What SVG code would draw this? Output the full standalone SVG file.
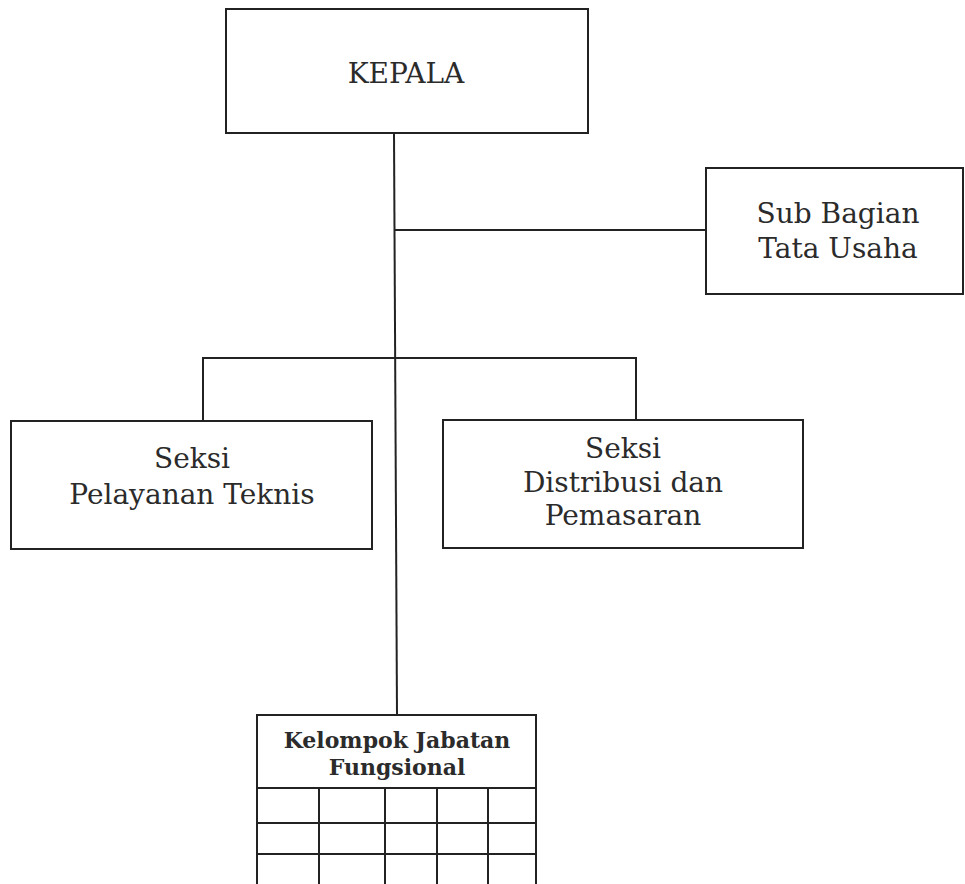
<svg xmlns="http://www.w3.org/2000/svg" width="965" height="884" viewBox="0 0 965 884">
  <style>
    .box { fill: #ffffff; stroke: #222222; stroke-width: 2; }
    .wire { fill: none; stroke: #222222; stroke-width: 2; }
    .grid { fill: none; stroke: #222222; stroke-width: 2; }
    .label { font-family: "DejaVu Serif", "Liberation Serif", serif; font-size: 28px; fill: #2b2b2b; text-anchor: middle; }
    .title { font-family: "DejaVu Serif", "Liberation Serif", serif; font-size: 22px; font-weight: bold; fill: #2b2b2b; text-anchor: middle; }
  </style>
  <rect width="965" height="884" fill="#ffffff"/>

  <!-- connectors -->
  <g id="connectors">
    <line class="wire" x1="394" y1="133" x2="397" y2="715"/>
    <line class="wire" x1="395" y1="230" x2="706" y2="230"/>
    <polyline class="wire" points="203,421 203,358 636,358 636,420"/>
  </g>

  <g id="kepala">
    <rect class="box" x="226" y="9" width="362" height="124"/>
    <text class="label" x="406" y="83">KEPALA</text>
  </g>

  <g id="sub-bagian-tata-usaha">
    <rect class="box" x="706" y="168" width="257" height="126"/>
    <text class="label" x="838" y="223">Sub Bagian</text>
    <text class="label" x="838" y="258">Tata Usaha</text>
  </g>

  <g id="seksi-pelayanan-teknis">
    <rect class="box" x="11" y="421" width="361" height="128"/>
    <text class="label" x="192" y="468">Seksi</text>
    <text class="label" x="192" y="504">Pelayanan Teknis</text>
  </g>

  <g id="seksi-distribusi-pemasaran">
    <rect class="box" x="443" y="420" width="360" height="128"/>
    <text class="label" x="623" y="458">Seksi</text>
    <text class="label" x="623" y="492">Distribusi dan</text>
    <text class="label" x="623" y="525">Pemasaran</text>
  </g>

  <g id="kelompok-jabatan-fungsional">
    <rect class="box" x="257" y="715" width="279" height="180"/>
    <text class="title" x="397" y="748">Kelompok Jabatan</text>
    <text class="title" x="397" y="775">Fungsional</text>
    <g class="grid">
      <line x1="257" y1="788" x2="536" y2="788"/>
      <line x1="257" y1="823" x2="536" y2="823"/>
      <line x1="257" y1="854" x2="536" y2="854"/>
      <line x1="319" y1="788" x2="319" y2="895"/>
      <line x1="385" y1="788" x2="385" y2="895"/>
      <line x1="437" y1="788" x2="437" y2="895"/>
      <line x1="488" y1="788" x2="488" y2="895"/>
    </g>
  </g>
</svg>
